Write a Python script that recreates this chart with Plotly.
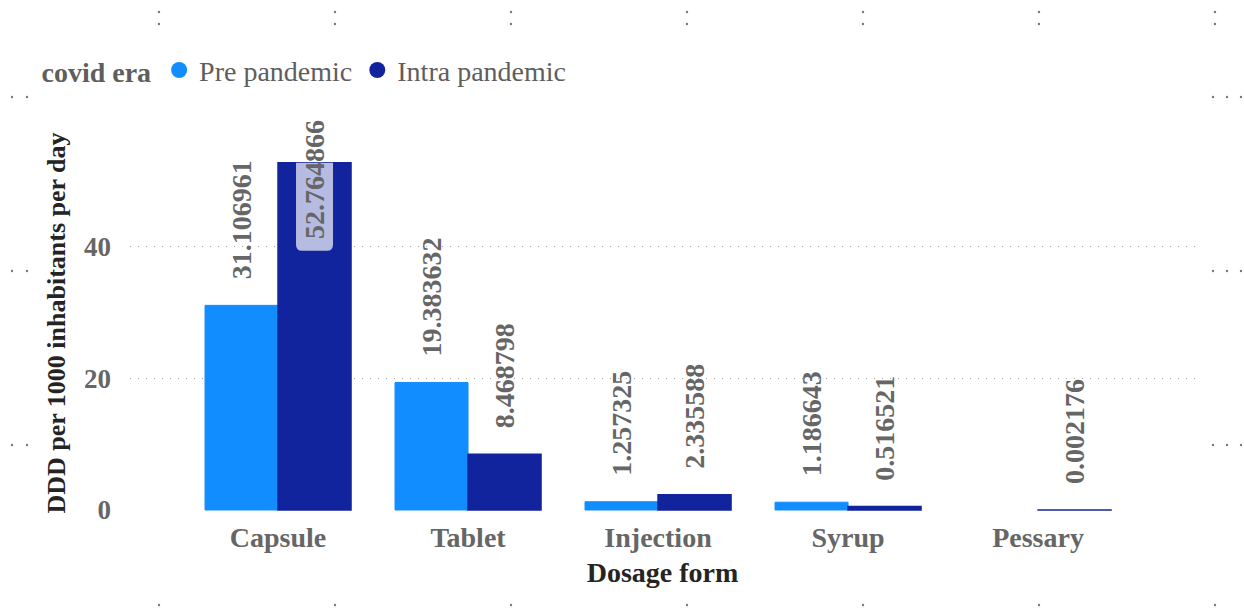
import plotly.graph_objects as go

# Dosage forms and DDD per 1000 inhabitants per day, by covid era
dosage_forms = ["Capsule", "Tablet", "Injection", "Syrup", "Pessary"]
pre_pandemic = [31.106961, 19.383632, 1.257325, 1.186643, None]
intra_pandemic = [52.764866, 8.468798, 2.335588, 0.516521, 0.002176]
y_ticks = [0, 20, 40]

PRE_COLOR = "#118DFF"
INTRA_COLOR = "#12239E"
LABEL_GREY = "#666666"
TITLE_DARK = "#252423"
FONT = "Liberation Serif"

W, H = 1244, 611
M_L, M_R, M_T, M_B = 130, 49, 135, 100
PLOT_W = W - M_L - M_R
PLOT_H = H - M_T - M_B

BARGAP = 0.2316
BAR_W = (1 - BARGAP) / 2  # width of one bar in category units

fig = go.Figure()

fig.add_trace(go.Bar(
    x=dosage_forms, y=pre_pandemic, name="Pre pandemic",
    marker=dict(color=PRE_COLOR, line=dict(color=PRE_COLOR, width=1)),
    showlegend=False,
))
fig.add_trace(go.Bar(
    x=dosage_forms, y=intra_pandemic, name="Intra pandemic",
    marker=dict(color=INTRA_COLOR, line=dict(color=INTRA_COLOR, width=1.5)),
    showlegend=False,
))

# Round legend swatches
for name, color in [("Pre pandemic", PRE_COLOR), ("Intra pandemic", INTRA_COLOR)]:
    fig.add_trace(go.Scatter(
        x=[None], y=[None], mode="markers", name=name,
        marker=dict(symbol="circle", size=20, color=color),
    ))

# Rotated value labels above each bar; the tallest bar carries its label inside
ymax_series = max(v for v in intra_pandemic + pre_pandemic if v is not None)
annotations = []
shapes = []
for series, offset in [(pre_pandemic, -BAR_W / 2), (intra_pandemic, BAR_W / 2)]:
    for i, v in enumerate(series):
        if v is None:
            continue
        label = f"{v:.6f}"
        if v == ymax_series:
            shapes.append(dict(
                type="path", xref="x", yref="y",
                xsizemode="pixel", ysizemode="pixel",
                xanchor=i + offset, yanchor=v,
                path="M -18.5 0 L 18.5 0 L 18.5 -82 Q 18.5 -88 12.5 -88 "
                     "L -12.5 -88 Q -18.5 -88 -18.5 -82 Z",
                fillcolor="#B5BBE1", line=dict(width=0), layer="above",
            ))
            annotations.append(dict(
                x=i + offset, y=v, xref="x", yref="y", text=label,
                textangle=-90, showarrow=False, yanchor="top",
                yshift=45, font=dict(family=FONT, size=28, color=LABEL_GREY, weight="bold"),
            ))
        else:
            annotations.append(dict(
                x=i + offset, y=v, xref="x", yref="y", text=label,
                textangle=-90, showarrow=False, yanchor="bottom",
                yshift=24, font=dict(family=FONT, size=28, color=LABEL_GREY, weight="bold"),
            ))

# Small frame handle dots around the visual
def px_to_paper(px, py):
    return (px - M_L) / PLOT_W, (H - M_B - py) / PLOT_H

handle_dots = []
for hx in [159, 335, 511, 687, 863, 1039, 1215]:
    handle_dots += [(hx, 12), (hx, 24), (hx, 605)]
for hy in [97, 271, 445]:
    handle_dots += [(12, hy), (27, hy), (1213, hy), (1227, hy), (1241, hy)]
for px, py in handle_dots:
    xp, yp = px_to_paper(px, py)
    shapes.append(dict(
        type="circle", xref="paper", yref="paper",
        xsizemode="pixel", ysizemode="pixel", xanchor=xp, yanchor=yp,
        x0=-1.2, x1=1.2, y0=-1.2, y1=1.2,
        fillcolor="#7a7a7a", line=dict(width=0), layer="above",
    ))

fig.update_layout(
    width=W, height=H, autosize=False,
    margin=dict(l=M_L, r=M_R, t=M_T, b=M_B),
    paper_bgcolor="white", plot_bgcolor="white",
    barmode="group", bargap=BARGAP, bargroupgap=0,
    font=dict(family=FONT, color=LABEL_GREY),
    annotations=annotations, shapes=shapes,
    legend=dict(
        orientation="h", x=-0.085, xanchor="left", y=1.172, yanchor="middle",
        title=dict(text="covid era", font=dict(family=FONT, size=28, color="#605E5C", weight="bold")),
        font=dict(family=FONT, size=28, color="#605E5C"),
        itemsizing="trace", itemwidth=30, tracegroupgap=0,
        bgcolor="rgba(0,0,0,0)",
    ),
    xaxis=dict(
        type="category", categoryorder="array", categoryarray=dosage_forms,
        range=[-0.779, 4.826], showgrid=False, showline=False, ticks="",
        tickfont=dict(family=FONT, size=28, color=LABEL_GREY, weight="bold"),
        ticklabelstandoff=7,
        title=dict(text="Dosage form", standoff=10,
                   font=dict(family=FONT, size=28, color=TITLE_DARK, weight="bold")),
    ),
    yaxis=dict(
        range=[-0.15, 57], tickvals=y_ticks, showline=False, zeroline=False,
        showgrid=True, gridcolor="#A8A8A8", gridwidth=1, griddash="1px,7px",
        tickfont=dict(family=FONT, size=27, color=LABEL_GREY, weight="bold"),
        ticklabelstandoff=18, ticks="",
        title=dict(text="DDD per 1000 inhabitants per day", standoff=10,
                   font=dict(family=FONT, size=26, color=TITLE_DARK, weight="bold")),
    ),
)

fig.write_html("out.html")
